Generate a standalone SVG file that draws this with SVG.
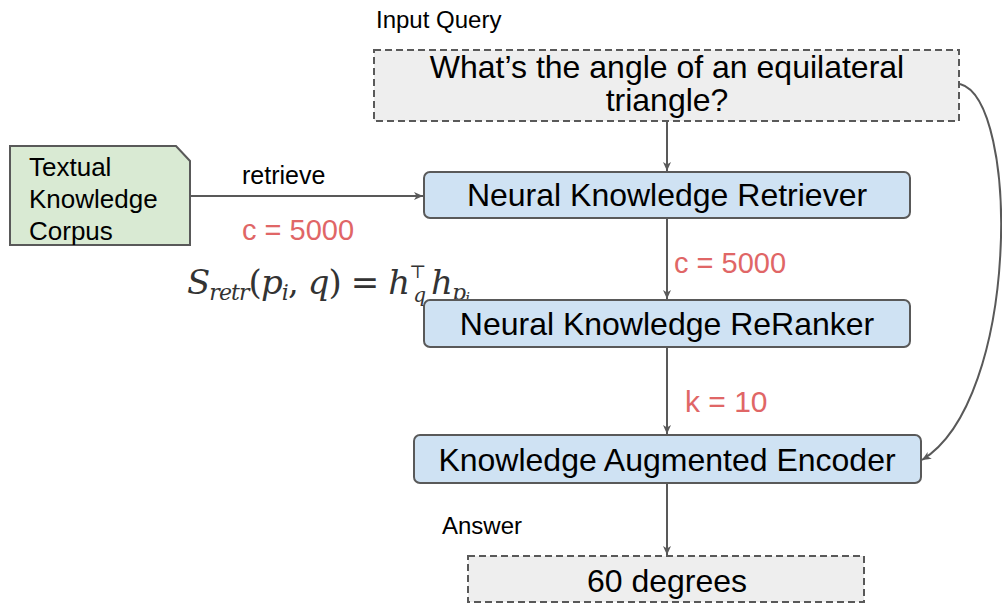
<svg xmlns="http://www.w3.org/2000/svg" width="1002" height="604" viewBox="0 0 1002 604">
<defs>
<marker id="ah" markerWidth="10" markerHeight="10" refX="9" refY="5" orient="auto" markerUnits="userSpaceOnUse">
<path d="M0,1 L9,5 L0,9 L2.5,5 Z" fill="#595959"/>
</marker>
<style>
.t{font-family:"Liberation Sans",Arial,sans-serif;fill:#000}
.red{font-family:"Liberation Sans",Arial,sans-serif;fill:#e06666}
.dash{fill:#eeeeee;stroke:#595959;stroke-width:2;stroke-dasharray:7,4}
.blue{fill:#cfe2f3;stroke:#595959;stroke-width:2}
.ln{fill:none;stroke:#595959;stroke-width:2;marker-end:url(#ah)}
.math{font-family:"DejaVu Serif","Liberation Serif",serif;font-style:italic;fill:#333}
</style>
</defs>
<rect width="1002" height="604" fill="#fff"/>
<g id="connectors">
<line class="ln" x1="190" y1="196" x2="423" y2="196"/>
<line class="ln" x1="667" y1="121" x2="667" y2="171"/>
<line class="ln" x1="667" y1="219" x2="667" y2="299"/>
<line class="ln" x1="667" y1="348" x2="667" y2="434"/>
<line class="ln" x1="667" y1="484" x2="667" y2="555"/>
<path class="ln" d="M960,84 C1020,100 1020,400 922,460"/>
</g>
<g id="labels">
<text class="t" x="376" y="28" font-size="24">Input Query</text>
<text class="t" x="242" y="184" font-size="25">retrieve</text>
<text class="red" x="242" y="240" font-size="29">c = 5000</text>
<text class="red" x="674" y="273" font-size="29">c = 5000</text>
<text class="red" x="685" y="412" font-size="30">k = 10</text>
<text class="t" x="442" y="534" font-size="24">Answer</text>
<text class="math" x="187" y="294" font-size="34" textLength="283" lengthAdjust="spacing">S<tspan font-size="22" dy="6">retr</tspan><tspan font-style="normal" dy="-6">(</tspan>p<tspan font-size="22" dy="6">i</tspan><tspan font-style="normal" dy="-6">, </tspan>q<tspan font-style="normal">) = </tspan>h<tspan font-size="18" font-style="normal" dx="0" dy="-16">⊤</tspan><tspan font-size="20" dx="-12" dy="24">q</tspan><tspan dy="-8" dx="6">h</tspan><tspan font-size="22" dy="6">p</tspan><tspan font-size="15" dy="3">i</tspan></text>
</g>
<g id="corpus">
<path d="M10,146 L176,146 L190,161 L190,245 L10,245 Z" fill="#d9ead3" stroke="#595959" stroke-width="2"/>
<text class="t" x="29" y="176" font-size="26">Textual</text>
<text class="t" x="29" y="208" font-size="26">Knowledge</text>
<text class="t" x="29" y="240" font-size="26">Corpus</text>
</g>
<g id="query">
<rect class="dash" x="374" y="50" width="585" height="71"/>
<text class="t" x="667" y="78" font-size="32" text-anchor="middle">What’s the angle of an equilateral</text>
<text class="t" x="667" y="111" font-size="32" text-anchor="middle">triangle?</text>
</g>
<g id="retriever">
<rect class="blue" x="424" y="172" width="486" height="46" rx="6"/>
<text class="t" x="667" y="206" font-size="32" text-anchor="middle">Neural Knowledge Retriever</text>
</g>
<g id="reranker">
<rect class="blue" x="424" y="300" width="486" height="47" rx="6"/>
<text class="t" x="667" y="335" font-size="32" text-anchor="middle">Neural Knowledge ReRanker</text>
</g>
<g id="encoder">
<rect class="blue" x="414" y="435" width="507" height="48" rx="6"/>
<text class="t" x="667" y="471" font-size="32" text-anchor="middle">Knowledge Augmented Encoder</text>
</g>
<g id="answer">
<rect class="dash" x="468" y="556" width="396" height="46"/>
<text class="t" x="667" y="592" font-size="32" text-anchor="middle">60 degrees</text>
</g>
</svg>
